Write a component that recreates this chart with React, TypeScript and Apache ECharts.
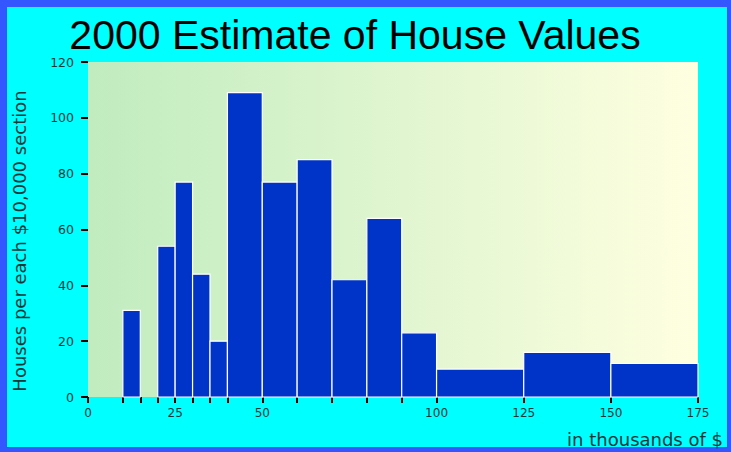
import React, { useEffect, useRef } from "react";
import * as echarts from "echarts";

const titleText = "2000 Estimate of House Values";
const yName = "Houses per each $10,000 section";
const xName = "in thousands of $";
const binStarts = [10, 20, 25, 30, 35, 40, 50, 60, 70, 80, 90, 100, 125, 150];
const binEnds = [15, 25, 30, 35, 40, 50, 60, 70, 80, 90, 100, 125, 150, 175];
const counts = [31, 54, 77, 44, 20, 109, 77, 85, 42, 64, 23, 10, 16, 12];
const xTickValues = [0, 10, 15, 20, 25, 30, 35, 40, 50, 60, 70, 80, 90, 100, 125, 150, 175];
const xLabelValues = [0, 25, 50, 100, 125, 150, 175];

export default function App() {
  const ref = useRef<HTMLDivElement>(null);
  useEffect(() => {
    if (!ref.current) return;
    const chart = echarts.init(ref.current, null, { renderer: "svg" });
    const data = binStarts.map((s, i) => [s, binEnds[i], counts[i]]);
    const blue = "#3456fe";
    const txt = "#103838";
    chart.setOption({
      animation: false,
      backgroundColor: "#00ffff",
      grid: {
        left: 88,
        top: 62,
        width: 610,
        height: 335,
        show: true,
        borderWidth: 0,
        backgroundColor: new echarts.graphic.LinearGradient(0, 0, 1, 0, [
          { offset: 0, color: "#c0ecbf" },
          { offset: 1, color: "#ffffe0" },
        ]),
      },
      xAxis: {
        type: "value",
        min: 0,
        max: 175,
        axisLine: { show: false },
        splitLine: { show: false },
        axisTick: {
          show: true,
          customValues: xTickValues,
          length: 6,
          lineStyle: { color: "#000", width: 2 },
        },
        axisLabel: {
          customValues: xLabelValues,
          margin: 10,
          color: txt,
          fontFamily: "DejaVu Sans",
          fontSize: 12,
        },
      },
      yAxis: {
        type: "value",
        min: 0,
        max: 120,
        interval: 20,
        axisLine: { show: false },
        splitLine: { show: false },
        axisTick: { show: true, length: 7, lineStyle: { color: "#000", width: 2 } },
        axisLabel: {
          margin: 14,
          color: txt,
          fontFamily: "DejaVu Sans",
          fontSize: 12.5,
        },
      },
      graphic: [
        { type: "rect", shape: { x: 0, y: 0, width: 731, height: 7 }, style: { fill: blue }, silent: true },
        { type: "rect", shape: { x: 0, y: 0, width: 7, height: 452 }, style: { fill: blue }, silent: true },
        { type: "rect", shape: { x: 0, y: 447, width: 731, height: 5 }, style: { fill: blue }, silent: true },
        { type: "rect", shape: { x: 727, y: 0, width: 4, height: 452 }, style: { fill: blue }, silent: true },
        {
          type: "text",
          x: 355,
          y: 35,
          style: {
            text: titleText,
            fill: "#000",
            font: "41px 'Liberation Sans', Arial, sans-serif",
            align: "center",
            verticalAlign: "middle",
          },
        },
        {
          type: "text",
          x: 19,
          y: 241,
          rotation: Math.PI / 2,
          style: {
            text: yName,
            fill: txt,
            font: "18px 'DejaVu Sans', sans-serif",
            align: "center",
            verticalAlign: "middle",
          },
        },
        {
          type: "text",
          x: 723,
          y: 439,
          style: {
            text: xName,
            fill: txt,
            font: "18px 'DejaVu Sans', sans-serif",
            align: "right",
            verticalAlign: "middle",
          },
        },
      ],
      series: [
        {
          type: "custom",
          data,
          encode: { x: [0, 1], y: 2 },
          renderItem: (params: any, api: any) => {
            const x0 = api.value(0);
            const x1 = api.value(1);
            const v = api.value(2);
            const p0 = api.coord([x0, v]);
            const p1 = api.coord([x1, 0]);
            return {
              type: "rect",
              shape: { x: p0[0], y: p0[1], width: p1[0] - p0[0], height: p1[1] - p0[1] },
              style: { fill: "#0033c8", stroke: "#ffffff", lineWidth: 1.2 },
            };
          },
        },
      ],
    });
    return () => chart.dispose();
  }, []);
  return (
    <div
      ref={ref}
      style={{ position: "fixed", left: 0, top: 0, width: 731, height: 452 }}
    />
  );
}
